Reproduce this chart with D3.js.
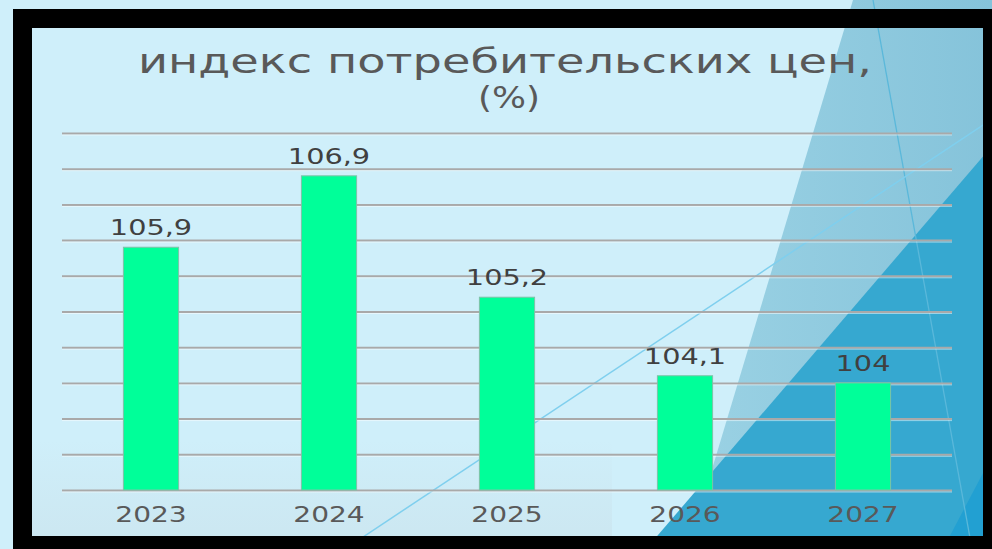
<!DOCTYPE html>
<html>
<head>
<meta charset="utf-8">
<script src="https://cdn.jsdelivr.net/npm/d3@7"></script>
<style>
  html, body { margin: 0; padding: 0; background: #cfeffa; }
  svg { display: block; }
</style>
</head>
<body>
<svg id="chart" width="992" height="549"></svg>
<script>
// chart data
var years = ["2023", "2024", "2025", "2026", "2027"];
var cpi = [105.9, 106.9, 105.2, 104.1, 104];
var titleLines = ["индекс потребительских цен,", "(%)"];

var svg = d3.select("#chart");
var W = +svg.attr("width"), H = +svg.attr("height");

var plot = { left: 62, right: 952, top: 133, bottom: 490 };

// background
svg.append("rect").attr("width", W).attr("height", H).attr("fill", "#cfeffa");

var defs = svg.append("defs");
var g1 = defs.append("linearGradient").attr("id", "glass")
    .attr("x1", "0").attr("x2", "1").attr("y1", "0").attr("y2", "0");
g1.append("stop").attr("offset", "0").attr("stop-color", "#9bd2e4");
g1.append("stop").attr("offset", "1").attr("stop-color", "#85c3da");

var g2 = defs.append("linearGradient").attr("id", "floor")
    .attr("x1", "0").attr("x2", "0").attr("y1", "0").attr("y2", "1");
g2.append("stop").attr("offset", "0").attr("stop-color", "#c8dde6").attr("stop-opacity", 0);
g2.append("stop").attr("offset", "1").attr("stop-color", "#c8dde6").attr("stop-opacity", 0.45);

// decorative shapes (slide theme)
svg.append("rect").attr("x", 32).attr("y", 440).attr("width", 580).attr("height", 100)
    .attr("fill", "url(#floor)");
svg.append("path").attr("d", "M853,0 L992,0 L992,549 L688,549 Z").attr("fill", "url(#glass)");
svg.append("path").attr("d", "M992,146 L992,549 L646,549 Z").attr("fill", "#36a8d0");
svg.append("path").attr("d", "M992,456 L992,549 L943,549 Z").attr("fill", "#22a0d2");
svg.append("line").attr("x1", 873).attr("y1", 0).attr("x2", 972).attr("y2", 549)
    .attr("stroke", "#5ab8da").attr("stroke-width", 1.3);
svg.append("line").attr("x1", 345).attr("y1", 549).attr("x2", 992).attr("y2", 119)
    .attr("stroke", "#7fcfee").attr("stroke-width", 1.5);

// black frame
svg.append("path")
    .attr("d", "M13,9 H1000 V560 H13 Z M32,28 V536 H983 V28 Z")
    .attr("fill", "#000").attr("fill-rule", "evenodd");

// scales
var x = d3.scaleBand()
    .domain(years)
    .range([plot.left, plot.right])
    .paddingInner(0.69)
    .paddingOuter(0.345);

var y = d3.scaleLinear()
    .domain([102.5, 107.5])
    .range([plot.bottom, plot.top]);

// gridlines
var grid = svg.append("g")
    .attr("transform", "translate(" + plot.left + ",0)")
    .call(d3.axisLeft(y).ticks(10).tickSize(-(plot.right - plot.left)).tickFormat(""));
grid.select(".domain").remove();
grid.selectAll(".tick line").attr("stroke", "#a9a9a9").attr("stroke-width", 2);
grid.selectAll(".tick").append("line")
    .attr("x2", plot.right - plot.left).attr("y1", 1.5).attr("y2", 1.5)
    .attr("stroke", "#ffffff").attr("stroke-opacity", 0.5).attr("stroke-width", 1);

// bars
svg.append("g").selectAll("rect")
    .data(cpi)
    .enter()
    .append("rect")
    .attr("x", function(d, i) { return x(years[i]); })
    .attr("width", x.bandwidth())
    .attr("y", function(d) { return y(d); })
    .attr("height", function(d) { return y(y.domain()[0]) - y(d); })
    .attr("fill", "#00ff99")
    .attr("stroke", "#7ec2a8")
    .attr("stroke-width", 1);

// stretched text helper (source picture is widened)
var stretch = 1.37;
function label(parent, tx, ty, txt, size, color) {
    return parent.append("text")
        .attr("transform", "translate(" + tx + "," + ty + ") scale(" + stretch + ",1)")
        .attr("text-anchor", "middle")
        .style("font-family", "'DejaVu Sans', Verdana, sans-serif")
        .style("font-size", size + "px")
        .attr("fill", color)
        .text(txt);
}

// value labels
var vals = svg.append("g");
cpi.forEach(function(d, i) {
    label(vals, x(years[i]) + x.bandwidth() / 2, y(d) - 12,
        String(d).replace(".", ","), 21, "#404040");
});

// category labels
var cats = svg.append("g");
years.forEach(function(yr) {
    label(cats, x(yr) + x.bandwidth() / 2, 522, yr, 20.5, "#595959");
});

// title
svg.append("text")
    .attr("x", 505).attr("y", 73)
    .attr("text-anchor", "middle")
    .attr("textLength", 734).attr("lengthAdjust", "spacingAndGlyphs")
    .style("font-family", "'DejaVu Sans', Verdana, sans-serif")
    .style("font-size", "34px")
    .attr("fill", "#595959")
    .text(titleLines[0]);
svg.append("text")
    .attr("x", 509).attr("y", 108)
    .attr("text-anchor", "middle")
    .attr("textLength", 62).attr("lengthAdjust", "spacingAndGlyphs")
    .style("font-family", "'DejaVu Sans', Verdana, sans-serif")
    .style("font-size", "30px")
    .attr("fill", "#595959")
    .text(titleLines[1]);
</script>
</body>
</html>
